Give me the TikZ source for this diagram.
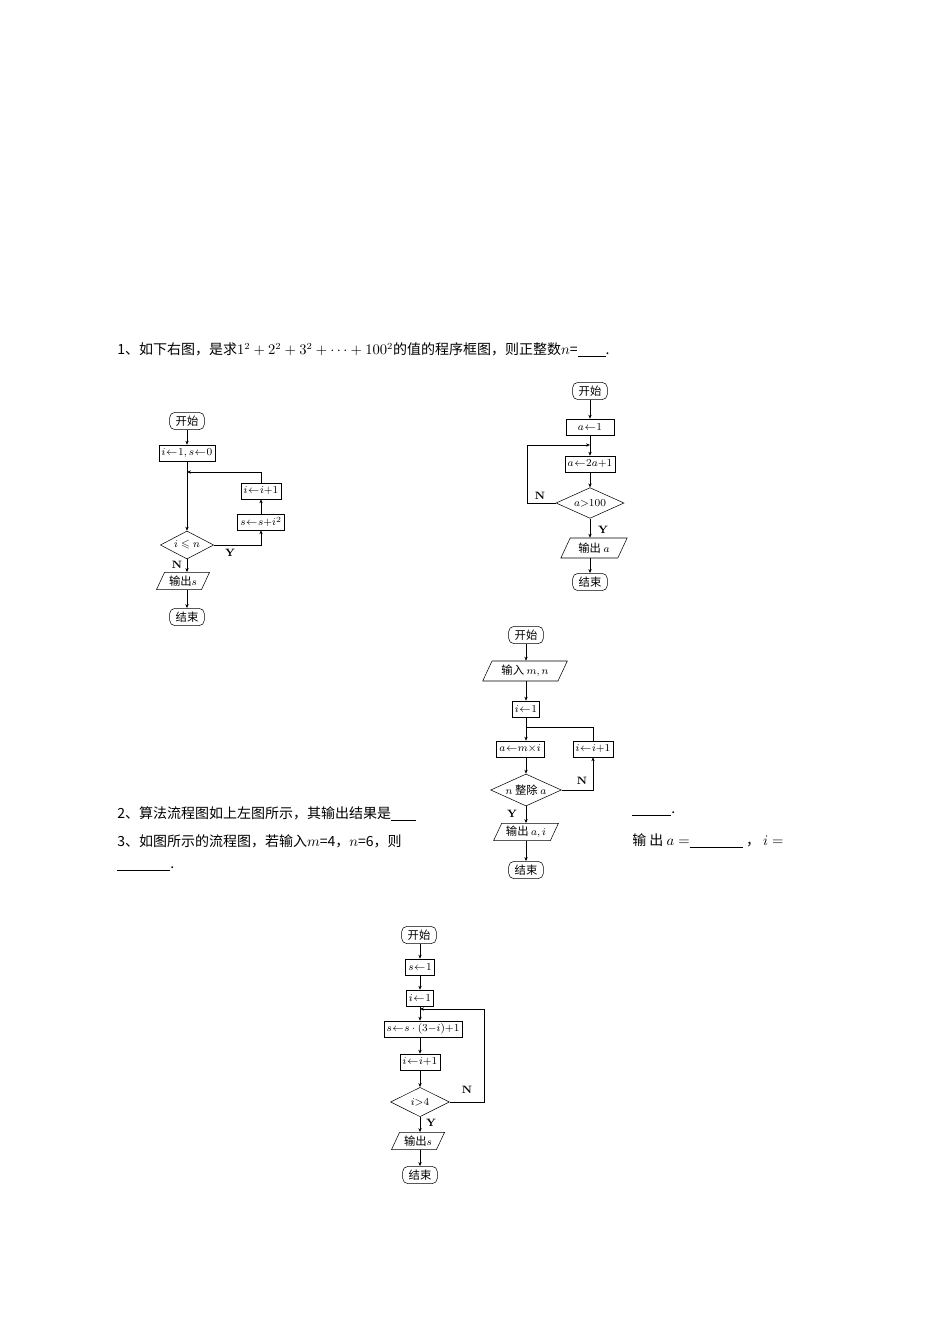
\documentclass[tikz,border=0pt]{standalone}
\usepackage{amssymb}
\usepackage{fontspec}
\usetikzlibrary{shapes.geometric,arrows.meta}
\newfontfamily\cjk{Noto Sans CJK SC}
\newcommand{\lfa}{\mathbin{\!\leftarrow\!}}
\begin{document}
\begin{tikzpicture}[x=0.75pt,y=-0.75pt,
  every node/.style={font=\cjk\fontsize{8.5}{9}\selectfont,inner sep=1pt},
  term/.style={draw,rounded corners=4pt,minimum width=26pt,minimum height=13pt},
  proc/.style={draw,minimum height=12pt,inner xsep=2pt},
  io/.style={draw,trapezium,trapezium left angle=65,trapezium right angle=115,minimum height=13pt,inner xsep=0pt},
  dec/.style={draw,diamond,aspect=2,inner sep=0pt},
  arr/.style={-{Stealth[length=3pt,width=2.5pt]},thin},
  ln/.style={thin},
  lab/.style={font=\fontsize{8}{9}\selectfont\bfseries},
  txt/.style={anchor=west,font=\cjk\fontsize{10.5}{12}\selectfont,inner sep=0pt}]
\useasboundingbox (0,0) rectangle (950,1344);
\fill[white] (0,0) rectangle (950,1344);
% text
\node[txt] (t1) at (117,350) {1、如下右图，是求$1^2+2^2+3^2+\cdots+100^2$的值的程序框图，则正整数$n$=\underline{\hspace{2em}}.};
\node[txt] (t2) at (117,814) {2、算法流程图如上左图所示，其输出结果是\underline{\hspace{1.8em}}};
\node[txt] (t2b) at (632,814) {\underline{\hspace{2.8em}}.};
\node[txt] (t3) at (117,841) {3、如图所示的流程图，若输入$m$=4，$n$=6，则};
\node[txt] (t3b) at (632,841) {输 出 $a=$\underline{\hspace{3.8em}} ， $i=$};
\node[txt] (t4) at (117,869) {\underline{\hspace{3.8em}}.};
% chart 1
\node[term] (a1) at (187,421) {开始};
\node[proc,minimum width=42pt] (a2) at (187,453) {$i\lfa1,s\lfa0$};
\node[dec,minimum width=40pt,minimum height=21pt] (a3) at (187,545) {$i\leqslant n$};
\node[proc,minimum width=27pt] (a4) at (261,491) {$i\lfa i{+}1$};
\node[proc,minimum width=27pt] (a5) at (261,522) {$s\lfa s{+}i^2$};
\node[io,minimum width=38pt] (a6) at (183,581) {输出$s$};
\node[term] (a7) at (187,617) {结束};
\coordinate (a8) at (187,472);
\draw[arr] (a1) -- (a2);
\draw[arr] (a2) -- (a3);
\draw[arr] (a3.east) -| (a5.south);
\draw[arr] (a5) -- (a4);
\draw[arr] (a4.north) |- (a8);
\draw[arr] (a3.south) -- (a3.south|-a6.north);
\draw[arr] (a6.south-|a7) -- (a7);
\node[lab] (a9) at (230,553) {Y};
\node[lab] (a10) at (177,565) {N};
% chart 2
\node[term] (b1) at (590,391) {开始};
\node[proc,minimum width=36pt] (b2) at (590,427) {$a\lfa1$};
\node[proc,minimum width=36pt] (b3) at (590,464) {$a\lfa2a{+}1$};
\node[dec,minimum width=51pt,minimum height=23pt] (b4) at (590,503) {$a{>}100$};
\node[io,minimum width=44pt,minimum height=15pt] (b5) at (594,548) {输出 $a$};
\node[term] (b6) at (590,582) {结束};
\coordinate (b7) at (590,445);
\coordinate (b8) at (527,445);
\draw[arr] (b1) -- (b2);
\draw[arr] (b2) -- (b3);
\draw[arr] (b3) -- (b4);
\draw[arr] (b4.west) -| (b8) -- (b7);
\draw[arr] (b4.south) -- (b4.south|-b5.north);
\draw[arr] (b5.south-|b6) -- (b6);
\node[lab] (b9) at (540,496) {N};
\node[lab] (b10) at (603,530) {Y};
% chart 3
\node[term] (c1) at (526,635) {开始};
\node[io,minimum width=42pt,minimum height=15pt] (c2) at (525,671) {输入 $m,n$};
\node[proc,minimum width=16pt] (c3) at (526,709) {$i\lfa1$};
\node[proc,minimum width=36pt] (c4) at (520,749) {$a\lfa m{\times}i$};
\node[proc,minimum width=26pt] (c5) at (593,749) {$i\lfa i{+}1$};
\node[dec,minimum width=53pt,minimum height=24pt] (c6) at (526,790) {$n$ 整除 $a$};
\node[io,minimum width=42pt] (c7) at (526,832) {输出 $a,i$};
\node[term] (c8) at (526,870) {结束};
\coordinate (c9) at (526,727);
\draw[arr] (c1) -- (c2.north-|c1);
\draw[arr] (c2.south-|c3) -- (c3);
\draw[arr] (c3) -- (c4.north-|c3);
\draw[ln] (c5.north) |- (c9);
\draw[arr] (c4.south-|c6) -- (c6);
\draw[arr] (c6.east) -| (c5.south);
\draw[arr] (c6.south) -- (c7.north-|c6);
\draw[arr] (c7.south-|c8) -- (c8);
\node[lab] (c10) at (582,781) {N};
\node[lab] (c11) at (512,814) {Y};
% chart 4
\node[term] (d1) at (419,935) {开始};
\node[proc,minimum width=16pt] (d2) at (420,967) {$s\lfa1$};
\node[proc,minimum width=16pt] (d3) at (420,998) {$i\lfa1$};
\node[proc,minimum width=52pt] (d4) at (423,1029) {$s\lfa s\cdot(3{-}i){+}1$};
\node[proc,minimum width=24pt] (d5) at (420,1062) {$i\lfa i{+}1$};
\node[dec,minimum width=44pt,minimum height=22pt] (d6) at (420,1102) {$i{>}4$};
\node[io,minimum width=36pt] (d7) at (418,1141) {输出$s$};
\node[term] (d8) at (420,1175) {结束};
\coordinate (d9) at (420,1009);
\coordinate (d10) at (484,1009);
\draw[arr] (d1.south-|d2) -- (d2);
\draw[arr] (d2) -- (d3);
\draw[arr] (d3) -- (d4.north-|d3);
\draw[arr] (d4.south-|d5) -- (d5);
\draw[arr] (d5) -- (d6);
\draw[arr] (d6.east) -| (d10) -- (d9);
\draw[arr] (d6.south) -- (d7.north-|d6);
\draw[arr] (d7.south-|d8) -- (d8);
\node[lab] (d11) at (467,1090) {N};
\node[lab] (d12) at (431,1123) {Y};
\end{tikzpicture}
\end{document}
